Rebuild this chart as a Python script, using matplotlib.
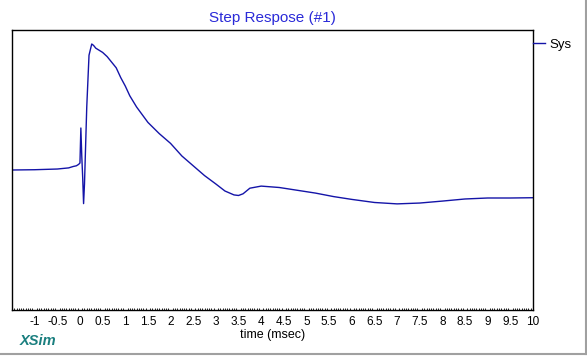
import matplotlib.pyplot as plt
from matplotlib.lines import Line2D
from matplotlib.ticker import MultipleLocator

# Step response (time in msec, amplitude arbitrary)
t = [-1.5, -1.0, -0.5, -0.25, -0.15, -0.08, -0.03, 0.0, 0.02, 0.04, 0.06,
     0.08, 0.1, 0.15, 0.2, 0.26, 0.3, 0.35, 0.4, 0.5, 0.6, 0.7, 0.8, 0.9,
     1.0, 1.1, 1.25, 1.5, 1.75, 2.0, 2.25, 2.5, 2.75, 3.0, 3.2, 3.4, 3.5,
     3.6, 3.75, 4.0, 4.4, 4.8, 5.2, 5.6, 6.0, 6.5, 7.0, 7.5, 8.0, 8.5,
     9.0, 9.5, 10.0]
y = [0.0, 0.002, 0.007, 0.015, 0.025, 0.03, 0.04, 0.05, 0.3, 0.1, -0.05,
     -0.24, -0.1, 0.45, 0.82, 0.9, 0.89, 0.87, 0.86, 0.84, 0.81, 0.77,
     0.73, 0.66, 0.6, 0.53, 0.45, 0.34, 0.26, 0.19, 0.1, 0.03, -0.04,
     -0.1, -0.15, -0.178, -0.182, -0.17, -0.13, -0.115, -0.125, -0.145,
     -0.165, -0.19, -0.21, -0.232, -0.242, -0.236, -0.222, -0.207, -0.2,
     -0.2, -0.198]

x_ticks = [-1, -0.5, 0, 0.5, 1, 1.5, 2, 2.5, 3, 3.5, 4, 4.5, 5, 5.5,
           6, 6.5, 7, 7.5, 8, 8.5, 9, 9.5, 10]
x_tick_labels = ['-1', '-0.5', '0', '0.5', '1', '1.5', '2', '2.5', '3',
                 '3.5', '4', '4.5', '5', '5.5', '6', '6.5', '7', '7.5',
                 '8', '8.5', '9', '9.5', '10']

plt.rcParams['font.family'] = ['Liberation Sans', 'DejaVu Sans']

fig = plt.figure(figsize=(5.87, 3.57), dpi=100)
ax = fig.add_axes([12 / 587, 1 - 310 / 357, 521 / 587, 280 / 357])

ax.plot(t, y, color='#1414a8', linewidth=1.0, label='Sys')

ax.set_xlim(-1.5, 10)
ax.set_ylim(-1, 1)
ax.set_yticks([])
ax.set_xticks(x_ticks)
ax.set_xticklabels(x_tick_labels)
ax.xaxis.set_minor_locator(MultipleLocator(0.05))
ax.tick_params(axis='x', which='major', length=0, labelsize=8.5, pad=4)
ax.tick_params(axis='x', which='minor', direction='in', length=1.5, width=0.6)
for s in ax.spines.values():
    s.set_linewidth(1.0)

ax.set_title('Step Respose (#1)', color='#2a2ad8', fontsize=11, pad=6)
ax.set_xlabel('time (msec)', fontsize=9, labelpad=1)

ax.legend(loc='upper left', bbox_to_anchor=(1.0, 0.97), frameon=False,
          handlelength=0.9, borderaxespad=0, borderpad=0,
          handletextpad=0.35, fontsize=9.5)

fig.text(20 / 587, 1 - 341 / 357, 'XSim', color='#1a7f7f', fontsize=10.5,
         fontweight='bold', fontstyle='italic', va='center')

# grey frame on right and bottom edge
fig.add_artist(Line2D([586 / 587, 586 / 587], [1 - 354 / 357, 1], color='#a0a0a0',
                      linewidth=1.5, transform=fig.transFigure))
fig.add_artist(Line2D([0, 586 / 587], [1 - 354 / 357, 1 - 354 / 357], color='#a0a0a0',
                      linewidth=1.5, transform=fig.transFigure))

fig.savefig('out.png', dpi=100)
